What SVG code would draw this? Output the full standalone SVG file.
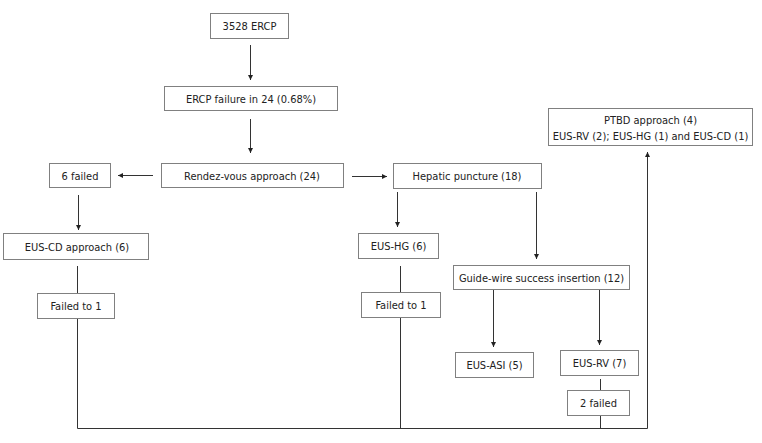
<svg xmlns="http://www.w3.org/2000/svg" width="762" height="443" viewBox="0 0 762 443">
<defs>
<marker id="ah" markerWidth="6" markerHeight="6" refX="5" refY="3" orient="auto" markerUnits="userSpaceOnUse">
<path d="M0,0.5 L5,3 L0,5.5 Z" fill="#222"/>
</marker>
<style>
.box{fill:#fff;stroke:#808080;stroke-width:1}
.t{font-family:"DejaVu Sans Condensed","DejaVu Sans",sans-serif;font-size:11px;fill:#222;text-anchor:middle}
.ln{fill:none;stroke:#333;stroke-width:1}
</style>
</defs>
<rect width="762" height="443" fill="#fff"/>
<g id="connectors">
<line class="ln" x1="250.5" y1="45" x2="250.5" y2="80" marker-end="url(#ah)"/>
<line class="ln" x1="250.5" y1="119" x2="250.5" y2="153" marker-end="url(#ah)"/>
<line class="ln" x1="153" y1="175.5" x2="118" y2="175.5" marker-end="url(#ah)"/>
<line class="ln" x1="352" y1="176.5" x2="387" y2="176.5" marker-end="url(#ah)"/>
<line class="ln" x1="78.5" y1="195" x2="78.5" y2="230" marker-end="url(#ah)"/>
<line class="ln" x1="397.5" y1="192" x2="397.5" y2="227" marker-end="url(#ah)"/>
<line class="ln" x1="536.5" y1="192" x2="536.5" y2="259" marker-end="url(#ah)"/>
<line class="ln" x1="493.5" y1="289" x2="493.5" y2="347" marker-end="url(#ah)"/>
<line class="ln" x1="599.5" y1="289" x2="599.5" y2="345" marker-end="url(#ah)"/>
<line class="ln" x1="77.5" y1="266" x2="77.5" y2="293"/>
<line class="ln" x1="400.5" y1="266" x2="400.5" y2="292"/>
<line class="ln" x1="600.5" y1="379" x2="600.5" y2="390"/>
<polyline class="ln" points="77.5,318 77.5,428.5 647.5,428.5 647.5,152" marker-end="url(#ah)"/>
<line class="ln" x1="400.5" y1="317" x2="400.5" y2="428.5"/>
<line class="ln" x1="600.5" y1="415" x2="600.5" y2="428.5"/>
</g>
<g id="n1"><rect class="box" x="210.5" y="13.5" width="78" height="25"/><text class="t" x="249.5" y="30">3528 ERCP</text></g>
<g id="n2"><rect class="box" x="164.5" y="86.5" width="173" height="24"/><text class="t" x="251" y="102.5">ERCP failure in 24 (0.68%)</text></g>
<g id="n3"><rect class="box" x="161.5" y="163.5" width="182" height="24"/><text class="t" x="252" y="179.5">Rendez-vous approach (24)</text></g>
<g id="n4"><rect class="box" x="393.5" y="163.5" width="148" height="25"/><text class="t" x="467" y="180">Hepatic puncture (18)</text></g>
<g id="n5"><rect class="box" x="49.5" y="163.5" width="61" height="24"/><text class="t" x="80" y="179.5">6 failed</text></g>
<g id="n6"><rect class="box" x="3.5" y="233.5" width="145" height="26"/><text class="t" x="77" y="250.5">EUS-CD approach (6)</text></g>
<g id="n7"><rect class="box" x="37.5" y="293.5" width="77" height="25"/><text class="t" x="76" y="310">Failed to 1</text></g>
<g id="n8"><rect class="box" x="358.5" y="233.5" width="80" height="25"/><text class="t" x="398.5" y="250">EUS-HG (6)</text></g>
<g id="n9"><rect class="box" x="361.5" y="292.5" width="79" height="25"/><text class="t" x="401" y="309">Failed to 1</text></g>
<g id="n10"><rect class="box" x="453.5" y="265.5" width="176" height="24"/><text class="t" x="541.5" y="281.5">Guide-wire success insertion (12)</text></g>
<g id="n11"><rect class="box" x="455.5" y="352.5" width="78" height="25"/><text class="t" x="494.5" y="369">EUS-ASI (5)</text></g>
<g id="n12"><rect class="box" x="560.5" y="350.5" width="78" height="25"/><text class="t" x="599.5" y="367">EUS-RV (7)</text></g>
<g id="n13"><rect class="box" x="567.5" y="390.5" width="62" height="25"/><text class="t" x="598.5" y="407">2 failed</text></g>
<g id="n14"><rect class="box" x="548.5" y="108.5" width="204" height="37"/><text class="t" x="650.5" y="124">PTBD approach (4)</text><text class="t" x="650.5" y="140">EUS-RV (2); EUS-HG (1) and EUS-CD (1)</text></g>
</svg>
